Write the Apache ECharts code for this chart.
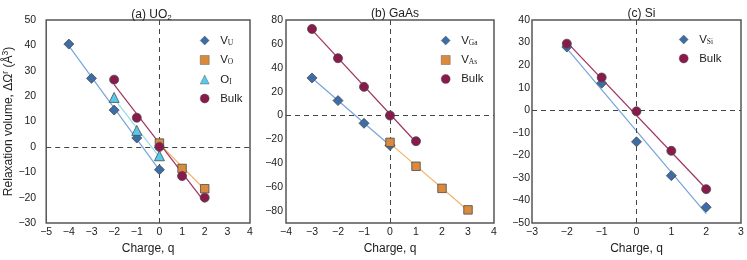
<!DOCTYPE html>
<html><head><meta charset="utf-8">
<script src="https://cdn.jsdelivr.net/npm/echarts@6/dist/echarts.min.js"></script>
<style>html,body{margin:0;padding:0;background:#fff}#c{width:747px;height:260px}</style>
</head><body><div id="c"></div>
<script>
// Panel (a) UO2
const qA_VU = [-4, -3, -2, -1, 0];
const vA_VU = [40.5, 27, 14.5, 3.5, -9];
const qA_VO = [0, 1, 2];
const vA_VO = [1.5, -8.5, -16.5];
const qA_OI = [-2, -1, 0];
const vA_OI = [19.5, 6.5, -3.5];
const qA_Bulk = [-2, -1, 0, 1, 2];
const vA_Bulk = [26.5, 11.5, 0, -11.5, -20];
// fitted lines (endpoints)
const fitA_VU = [[-4, 39.8], [0, -9.2]];
const fitA_VO = [[0, 1.2], [2, -16.8]];
const fitA_OI = [[-2, 19], [0, -4]];
const fitA_Bulk = [[-2, 24.5], [2, -21.8]];

// Panel (b) GaAs
const qB_VGa = [-3, -2, -1, 0];
const vB_VGa = [31.5, 12.5, -6.5, -25];
const qB_VAs = [0, 1, 2, 3];
const vB_VAs = [-22.5, -42.5, -61, -79];
const qB_Bulk = [-3, -2, -1, 0, 1];
const vB_Bulk = [72.5, 48, 24, 0, -21.5];
const fitB_VGa = [[-3, 31.4], [0, -25.1]];
const fitB_VAs = [[0, -23.3], [3, -79.5]];
const fitB_Bulk = [[-3, 71.8], [1, -22.4]];

// Panel (c) Si
const qC_VSi = [-2, -1, 0, 1, 2];
const vC_VSi = [28, 12, -14, -29, -43];
const qC_Bulk = [-2, -1, 0, 1, 2];
const vC_Bulk = [29.5, 14.5, -0.5, -18, -35];
const fitC_VSi = [[-2, 27.4], [2, -45.8]];
const fitC_Bulk = [[-2, 30.2], [2, -34.8]];

// axes
const xRangeA = [-5, 4], yRangeA = [-30, 50], yStepA = 10;
const xRangeB = [-4, 4], yRangeB = [-90, 80], yStepB = 20;
const xRangeC = [-3, 3], yRangeC = [-50, 40], yStepC = 10;

const titles = ['(a) UO{s|2}', '(b) GaAs', '(c) Si'];
const legendText = {
  'V_U': '{a|V}{s|U}', 'V_O': '{a|V}{s|O}', 'O_I': '{a|O}{s|I}', 'Bulk': '{a|Bulk}',
  'V_Ga': '{a|V}{s|Ga}', 'V_As': '{a|V}{s|As}', 'V_Si': '{a|V}{s|Si}'
};

const C = {
  blue: '#3d6da6', blueL: '#75a4db',
  orange: '#d98a3d', orangeL: '#f2b26e',
  cyan: '#58c9ec', cyanL: '#93dbf3',
  bulk: '#8a1a4b', bulkL: '#a0325f'
};
const FONT = 'Liberation Sans, Arial, Helvetica, sans-serif';

const grids = [
  {left: 43, top: 20, width: 207, height: 209},
  {left: 286, top: 20, width: 208, height: 209},
  {left: 532, top: 20, width: 209, height: 209}
];

function zip(q, v) { return q.map((x, i) => [x, v[i]]); }
function minus(v) { return String(v).replace('-', '\u2212'); }

function xAxis(idx, r) {
  return {gridIndex: idx, type: 'value', min: r[0], max: r[1], interval: 1,
    splitLine: {show: false}, axisLine: {show: false}, axisTick: {show: false},
    axisLabel: {margin: 4, fontSize: 10.5, color: '#222', fontFamily: FONT, formatter: minus},
    name: 'Charge, q', nameLocation: 'middle', nameGap: 20,
    nameTextStyle: {fontSize: 12, color: '#222', fontFamily: FONT}};
}
function yAxis(idx, r, step, margin, labelStep, withName) {
  const ax = {gridIndex: idx, type: 'value', min: r[0], max: r[1], interval: step,
    splitLine: {show: false}, axisLine: {show: false}, axisTick: {show: false},
    axisLabel: {margin: margin, fontSize: 10.5, color: '#222', fontFamily: FONT,
      formatter: v => (v % labelStep === 0 ? minus(v) : '')}};
  if (withName) {
    ax.name = '{t|Relaxation volume, ΔΩ}{p|r}{t| (Å}{p|3}{t|)}';
    ax.nameLocation = 'middle';
    ax.nameGap = 24;
    ax.nameTextStyle = {color: '#222', fontFamily: FONT,
      rich: {t: {fontSize: 12, color: '#222', fontFamily: FONT},
             p: {fontSize: 8.5, color: '#222', fontFamily: FONT, padding: [0, 0, 6, 0]}}};
  }
  return ax;
}

function scatter(name, idx, data, symbol, size, color) {
  return {name: name, type: 'scatter', xAxisIndex: idx, yAxisIndex: idx, data: data,
    symbol: symbol, symbolSize: size, z: 5,
    itemStyle: {color: color, borderColor: '#4a4a4a', borderWidth: 0.8, opacity: 1}};
}
function fit(idx, data, color, mark) {
  const s = {type: 'line', xAxisIndex: idx, yAxisIndex: idx, data: data, symbol: 'none',
    silent: true, lineStyle: {color: color, width: 1.2}, z: 3};
  if (mark) {
    s.markLine = {silent: true, symbol: 'none', label: {show: false},
      lineStyle: {color: '#444', type: [5, 4], width: 1},
      data: [{xAxis: 0}, {yAxis: 0}]};
  }
  return s;
}

function legend(left, top, names) {
  return {data: names, left: left, top: top, orient: 'vertical', itemWidth: 9, itemHeight: 9,
    itemGap: 6.5, selectedMode: false,
    itemStyle: {borderWidth: 0.4},
    formatter: n => legendText[n],
    textStyle: {padding: [0, 0, 0, 6], rich: {
      a: {fontSize: 11.5, color: '#222', fontFamily: FONT, lineHeight: 12},
      s: {fontSize: 7.5, color: '#222', fontFamily: 'Liberation Serif, serif', padding: [5, 0, 0, 0], lineHeight: 12}}}};
}

const chart = echarts.init(document.getElementById('c'), null, {renderer: 'canvas'});
chart.setOption({
  animation: false,
  backgroundColor: '#fff',
  title: titles.map((t, i) => ({
    text: t, left: grids[i].left + grids[i].width / 2, top: 3, textAlign: 'center',
    textStyle: {fontSize: 12, fontWeight: 'normal', color: '#222', fontFamily: FONT,
      rich: {s: {fontSize: 8, color: '#222', fontFamily: FONT, padding: [6, 0, 0, 0]}}}
  })),
  grid: grids.map(g => Object.assign({show: true, borderColor: '#555', borderWidth: 1.5, backgroundColor: 'transparent'}, g)),
  legend: [
    legend(195, 29, ['V_U', 'V_O', 'O_I', 'Bulk']),
    legend(436, 29, ['V_Ga', 'V_As', 'Bulk']),
    legend(674, 28, ['V_Si', 'Bulk'])
  ],
  xAxis: [xAxis(0, xRangeA), xAxis(1, xRangeB), xAxis(2, xRangeC)],
  yAxis: [
    yAxis(0, yRangeA, yStepA, 10, yStepA, true),
    yAxis(1, yRangeB, 10, 3, yStepB, false),
    yAxis(2, yRangeC, yStepC, 2, yStepC, false)
  ],
  series: [
    fit(0, fitA_VU, C.blueL, true),
    fit(0, fitA_OI, C.cyanL),
    fit(0, fitA_VO, C.orangeL),
    fit(0, fitA_Bulk, C.bulkL),
    scatter('V_U', 0, zip(qA_VU, vA_VU), 'diamond', 10, C.blue),
    scatter('V_O', 0, zip(qA_VO, vA_VO), 'rect', 8.5, C.orange),
    scatter('O_I', 0, zip(qA_OI, vA_OI), 'triangle', 10, C.cyan),
    scatter('Bulk', 0, zip(qA_Bulk, vA_Bulk), 'circle', 9, C.bulk),

    fit(1, fitB_VGa, C.blueL, true),
    fit(1, fitB_VAs, C.orangeL),
    fit(1, fitB_Bulk, C.bulkL),
    scatter('V_Ga', 1, zip(qB_VGa, vB_VGa), 'diamond', 10, C.blue),
    scatter('V_As', 1, zip(qB_VAs, vB_VAs), 'rect', 8.5, C.orange),
    scatter('Bulk', 1, zip(qB_Bulk, vB_Bulk), 'circle', 9, C.bulk),

    fit(2, fitC_VSi, C.blueL, true),
    fit(2, fitC_Bulk, C.bulkL),
    scatter('V_Si', 2, zip(qC_VSi, vC_VSi), 'diamond', 10, C.blue),
    scatter('Bulk', 2, zip(qC_Bulk, vC_Bulk), 'circle', 9, C.bulk)
  ]
});
</script></body></html>
